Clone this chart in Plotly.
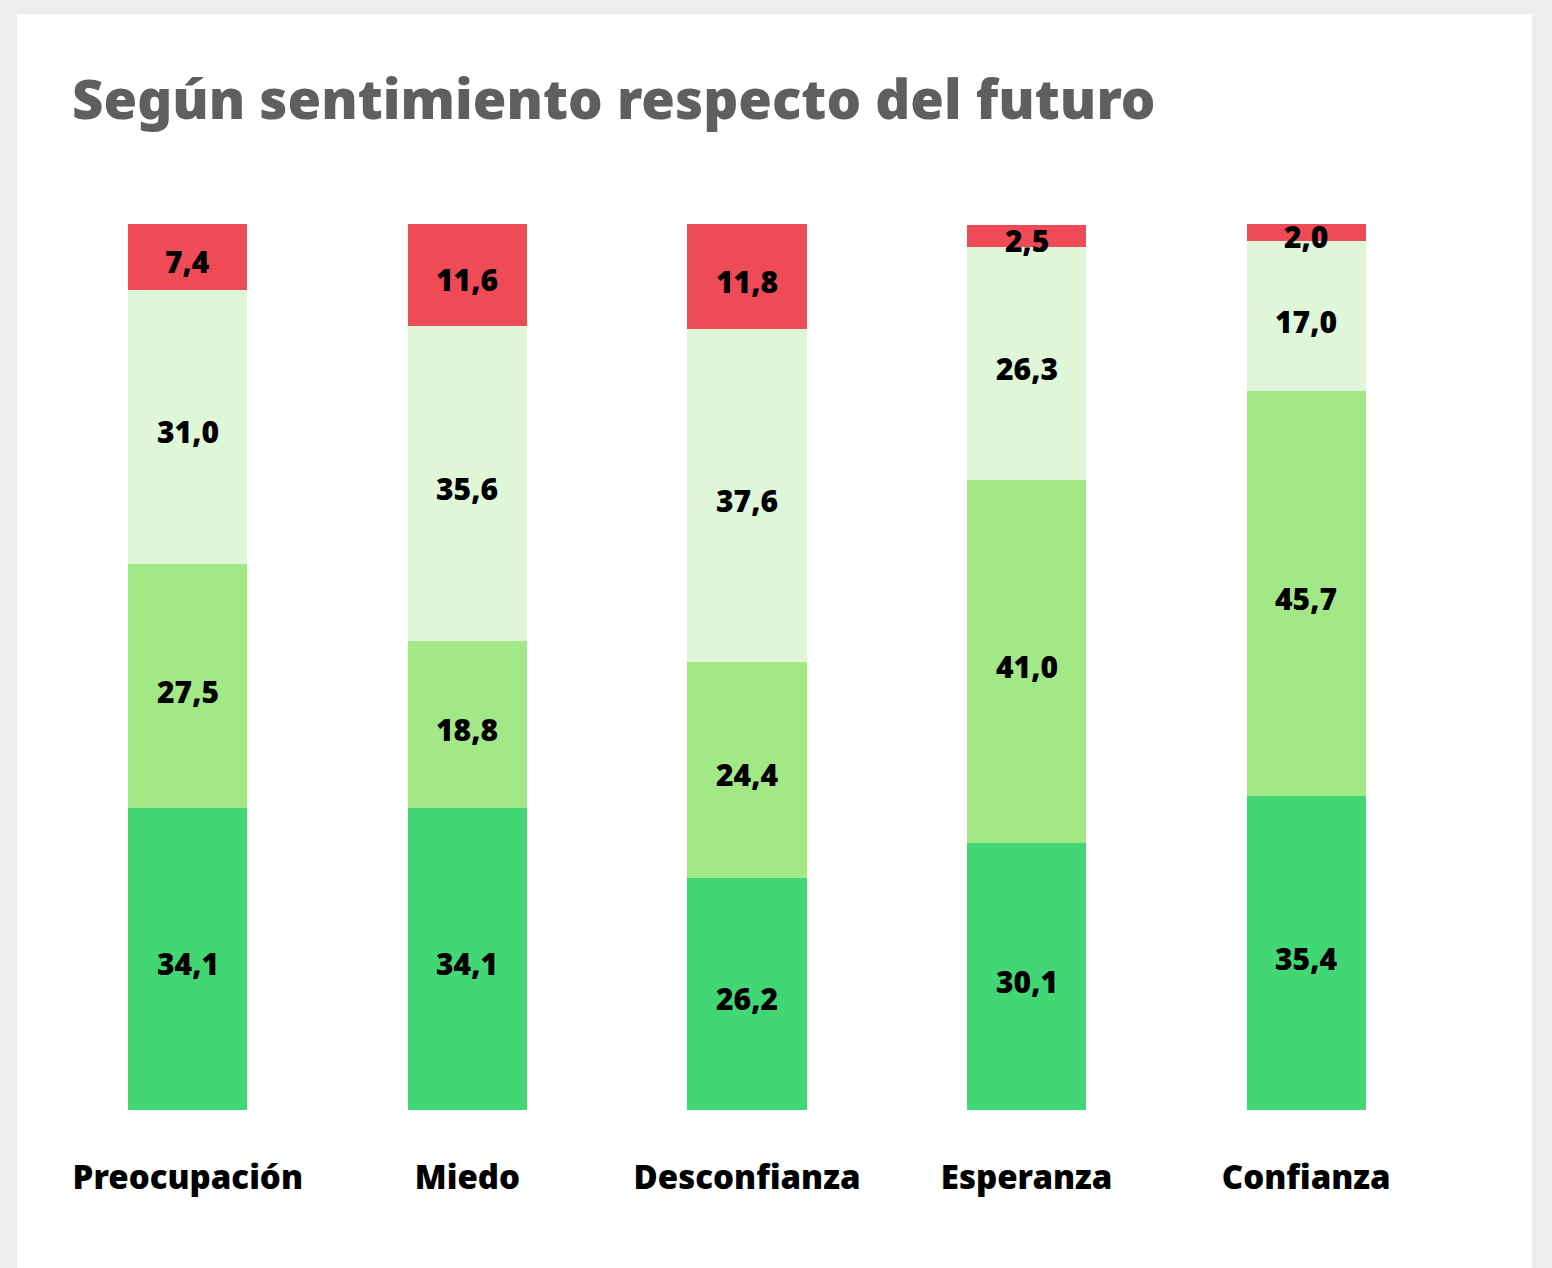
import plotly.graph_objects as go

categories = ["Preocupación", "Miedo", "Desconfianza", "Esperanza", "Confianza"]
serie_1 = [34.1, 34.1, 26.2, 30.1, 35.4]
serie_2 = [27.5, 18.8, 24.4, 41.0, 45.7]
serie_3 = [31.0, 35.6, 37.6, 26.3, 17.0]
serie_4 = [7.4, 11.6, 11.8, 2.5, 2.0]
series_names = ["Serie 1", "Serie 2", "Serie 3", "Serie 4"]
colors = ["#43d675", "#a3e886", "#dff6d9", "#ef4b56"]
title = "Según sentimiento respecto del futuro"

FONT = "'Noto Sans', Lato, sans-serif"

fig = go.Figure()
all_series = [serie_1, serie_2, serie_3, serie_4]
for name, vals, col in zip(series_names, all_series, colors):
    fig.add_trace(go.Bar(
        x=categories, y=vals, name=name,
        marker=dict(color=col, line=dict(width=0)),
        hoverinfo="skip",
    ))

# value labels centred in each segment
base = [0.0] * len(categories)
for vals in all_series:
    for i, (c, v) in enumerate(zip(categories, vals)):
        fig.add_annotation(x=c, y=base[i] + v / 2, text=f"{v:.1f}".replace(".", ","),
                           showarrow=False, yshift=-5,
                           font=dict(family=FONT, size=30, color="#000000", weight=900))
        base[i] += v

W, H = 1552, 1268
ml, mr, mt, mb = 48, 106, 224, 158
pw, ph = W - ml - mr, H - mt - mb

def px_x(p):
    return (p - ml) / pw

def px_y(p):
    return (H - mb - p) / ph

fig.add_shape(type="rect", xref="paper", yref="paper",
              x0=px_x(17), x1=px_x(1532), y0=px_y(1268 + 5), y1=px_y(14),
              fillcolor="#ffffff", line=dict(width=0), layer="below")

fig.update_layout(
    width=W, height=H,
    barmode="stack",
    bargap=0.574,
    showlegend=False,
    paper_bgcolor="#ededed",
    plot_bgcolor="#ffffff",
    margin=dict(l=ml, r=mr, t=mt, b=mb),
    title=dict(text=title, x=72 / W, xanchor="left", y=1 - 100 / H, yanchor="middle",
               xref="container", yref="container",
               font=dict(family=FONT, size=54.5, color="#5f5f5f", weight=900)),
    xaxis=dict(showgrid=False, zeroline=False, showline=False, ticks="",
               ticklabelstandoff=45,
               tickfont=dict(family=FONT, size=33, color="#000000", weight=900)),
    yaxis=dict(range=[0, 100], visible=False, showgrid=False, zeroline=False),
)

fig.write_html("out.html", config={"displayModeBar": False},
               post_script="document.body.style.margin='0';document.body.style.background='#ededed';")
